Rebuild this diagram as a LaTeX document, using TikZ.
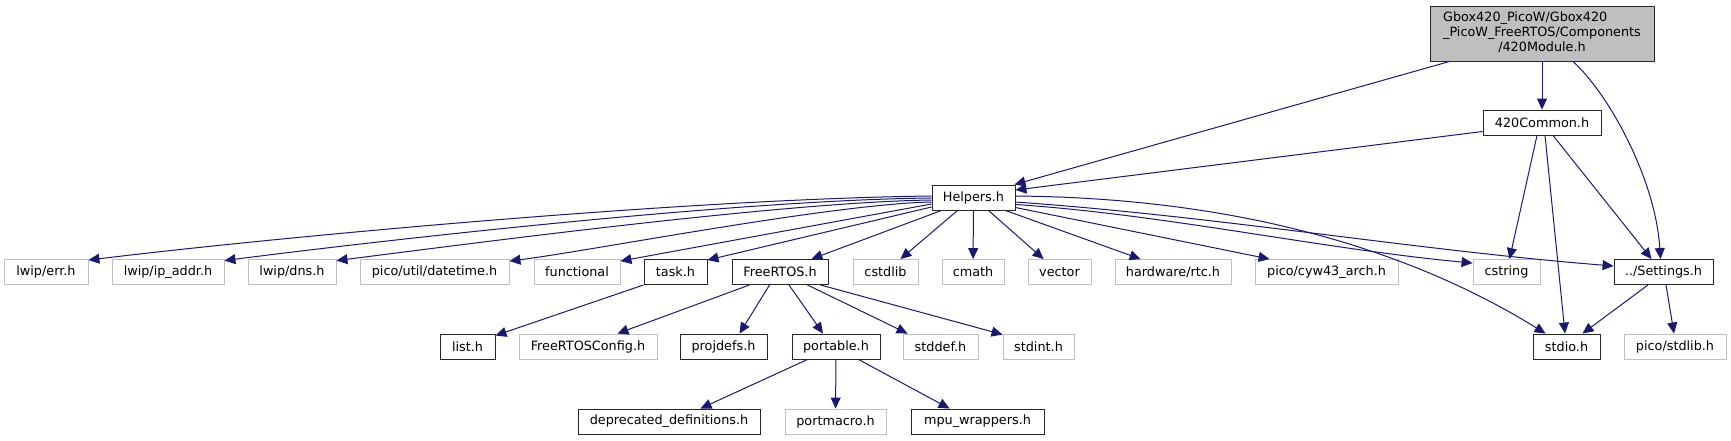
\documentclass[tikz,border=0pt]{standalone}
\usepackage{fontspec}
\setmainfont{DejaVu Sans}
\usetikzlibrary{arrows.meta,calc}
\definecolor{edgeblue}{HTML}{191970}
\definecolor{greyL}{HTML}{BFBFBF}
\definecolor{docline}{HTML}{262626}
\tikzset{
  box/.style={rectangle, inner sep=0pt, minimum height=25pt, font=\fontsize{12.8}{15}\selectfont, text=black, line width=0.9pt, fill=white},
  docbox/.style={box, draw=docline},
  extbox/.style={box, draw=greyL},
  dep/.style={draw=edgeblue, line width=1pt, -{Triangle[length=11pt,width=10pt]}},
}
\begin{document}
\begin{tikzpicture}[x=1pt,y=-1pt]
\useasboundingbox (0,0) rectangle (1731,440);
\fill[white] (0,0) rectangle (1731,440);
% rank 0-2
\node[docbox, fill=greyL, minimum width=224pt, minimum height=55pt] (module) at (1542,33.5)
  {\begin{tabular}{@{}l@{}}Gbox420\_PicoW/Gbox420\\\_PicoW\_FreeRTOS/Components\\\multicolumn{1}{@{}c@{}}{/420Module.h}\end{tabular}};
\node[docbox, minimum width=118pt] (common) at (1542,122.5) {420Common.h};
\node[docbox, minimum width=83pt] (helpers) at (973.5,197.5) {Helpers.h};
% rank 3
\node[extbox, minimum width=84pt] (err) at (46,272) {lwip/err.h};
\node[extbox, minimum width=112pt] (ipaddr) at (168,272) {lwip/ip\_addr.h};
\node[extbox, minimum width=88pt] (dns) at (292,272) {lwip/dns.h};
\node[extbox, minimum width=149pt] (datetime) at (434.5,272) {pico/util/datetime.h};
\node[extbox, minimum width=86pt] (functional) at (577,272) {functional};
\node[docbox, minimum width=63pt] (task) at (675.5,272) {task.h};
\node[docbox, minimum width=96pt] (freertos) at (780,272) {FreeRTOS.h};
\node[extbox, minimum width=65pt] (cstdlib) at (885.5,272) {cstdlib};
\node[extbox, minimum width=62pt] (cmath) at (973,272) {cmath};
\node[extbox, minimum width=63pt] (vector) at (1059.5,272) {vector};
\node[extbox, minimum width=116pt] (rtc) at (1173,272) {hardware/rtc.h};
\node[extbox, minimum width=143pt] (cyw43) at (1326.5,272) {pico/cyw43\_arch.h};
\node[extbox, minimum width=67pt] (cstring) at (1506.5,272) {cstring};
\node[docbox, minimum width=99pt] (settings) at (1663.5,272) {../Settings.h};
% rank 4
\node[docbox, minimum width=55pt] (list) at (467.5,346.5) {list.h};
\node[extbox, minimum width=138pt] (config) at (588,346.5) {FreeRTOSConfig.h};
\node[docbox, minimum width=87pt] (projdefs) at (723.5,346.5) {projdefs.h};
\node[docbox, minimum width=88pt] (portable) at (836,346.5) {portable.h};
\node[extbox, minimum width=75pt] (stddef) at (940.5,346.5) {stddef.h};
\node[extbox, minimum width=71pt] (stdint) at (1038.5,346.5) {stdint.h};
\node[docbox, minimum width=67pt] (stdio) at (1566.5,346.5) {stdio.h};
\node[extbox, minimum width=102pt] (stdlib) at (1675,346.5) {pico/stdlib.h};
% rank 5
\node[docbox, minimum width=182pt] (deprecated) at (669,421.5) {deprecated\_definitions.h};
\node[extbox, minimum width=101pt] (portmacro) at (835.5,421.5) {portmacro.h};
\node[docbox, minimum width=133pt] (mpu) at (977.5,421.5) {mpu\_wrappers.h};
% edges from module
\draw[dep] (module) -- (common);
\draw[dep] ($(module.south west)+(20,0)$) -- ($(helpers.north east)+(-1,0)$);
\draw[dep] ($(module.south)+(31,0)$) .. controls +(37,34) and +(-5,-79) .. ($(settings.north)+(-3,0)$);
% edges from 420Common
\draw[dep] ($(common.west)+(0,9)$) -- ($(helpers.east)+(0,-7.5)$);
\draw[dep] ($(common.south)+(-5,0)$) -- ($(cstring.north)+(3,0)$);
\draw[dep] ($(common.south)+(3,0)$) -- ($(stdio.north)+(-1.5,0)$);
\draw[dep] ($(common.south)+(11,0)$) -- ($(settings.north)+(-12,0)$);
% edges from Helpers, left side
\draw[dep] ($(helpers.west)+(0,-1.5)$) .. controls +(-250,3) and +(180,-22) .. ($(err.north east)+(0,1)$);
\draw[dep] ($(helpers.west)+(0,0.5)$) .. controls +(-200,2) and +(140,-18) .. ($(ipaddr.north east)+(0,1.5)$);
\draw[dep] ($(helpers.west)+(0,2.5)$) .. controls +(-150,2) and +(120,-15) .. ($(dns.north east)+(0,1.5)$);
\draw[dep] ($(helpers.west)+(0,4.5)$) .. controls +(-100,2) and +(80,-10) .. ($(datetime.north east)+(0,2)$);
\draw[dep] ($(helpers.west)+(0,6.5)$) -- ($(functional.north east)+(0,2)$);
\draw[dep] ($(helpers.west)+(0,9.5)$) -- ($(task.north east)+(0,1)$);
% edges from Helpers, bottom
\draw[dep] ($(helpers.south west)+(10,0)$) -- ($(freertos.north east)+(-17,0)$);
\draw[dep] ($(helpers.south west)+(26,0)$) -- ($(cstdlib.north east)+(-18,0)$);
\draw[dep] (helpers) -- (cmath);
\draw[dep] ($(helpers.south east)+(-27,0)$) -- ($(vector.north west)+(16,0)$);
\draw[dep] ($(helpers.south east)+(-10,0)$) -- ($(rtc.north west)+(26,0)$);
% edges from Helpers, right side
\draw[dep] ($(helpers.east)+(0,10)$) -- ($(cyw43.north west)+(15,0)$);
\draw[dep] ($(helpers.east)+(0,7)$) .. controls +(150,10) and +(-150,-14) .. ($(cstring.north west)+(0,4)$);
\draw[dep] ($(helpers.east)+(0,4.5)$) .. controls +(200,14) and +(-200,-16) .. ($(settings.west)+(0,-6)$);
\draw[dep] ($(helpers.east)+(0,-1.5)$) .. controls +(235,2) and +(-126,-78) .. ($(stdio.north west)+(13,0)$);
% Settings
\draw[dep] ($(settings.south)+(-15.5,0)$) -- ($(stdio.north east)+(-18,0)$);
\draw[dep] ($(settings.south)+(2.5,0)$) -- ($(stdlib.north)+(-1,0)$);
% task
\draw[dep] (task.south west) -- ($(list.north east)+(0,2)$);
% FreeRTOS
\draw[dep] ($(freertos.south west)+(18,0)$) -- ($(config.north east)+(-40,0)$);
\draw[dep] ($(freertos.south west)+(38,0)$) -- ($(projdefs.north)+(16,0)$);
\draw[dep] ($(freertos.south)+(9,0)$) -- ($(portable.north)+(-13,0)$);
\draw[dep] ($(freertos.south east)+(-21,0)$) -- ($(stddef.north west)+(5,0)$);
\draw[dep] ($(freertos.south east)+(-8,0)$) -- ($(stdint.north west)+(0,1)$);
% portable
\draw[dep] ($(portable.south west)+(16,0)$) -- ($(deprecated.north east)+(-60,0)$);
\draw[dep] (portable) -- (portmacro);
\draw[dep] ($(portable.south east)+(-22,0)$) -- ($(mpu.north west)+(39,0)$);
\end{tikzpicture}
\end{document}
